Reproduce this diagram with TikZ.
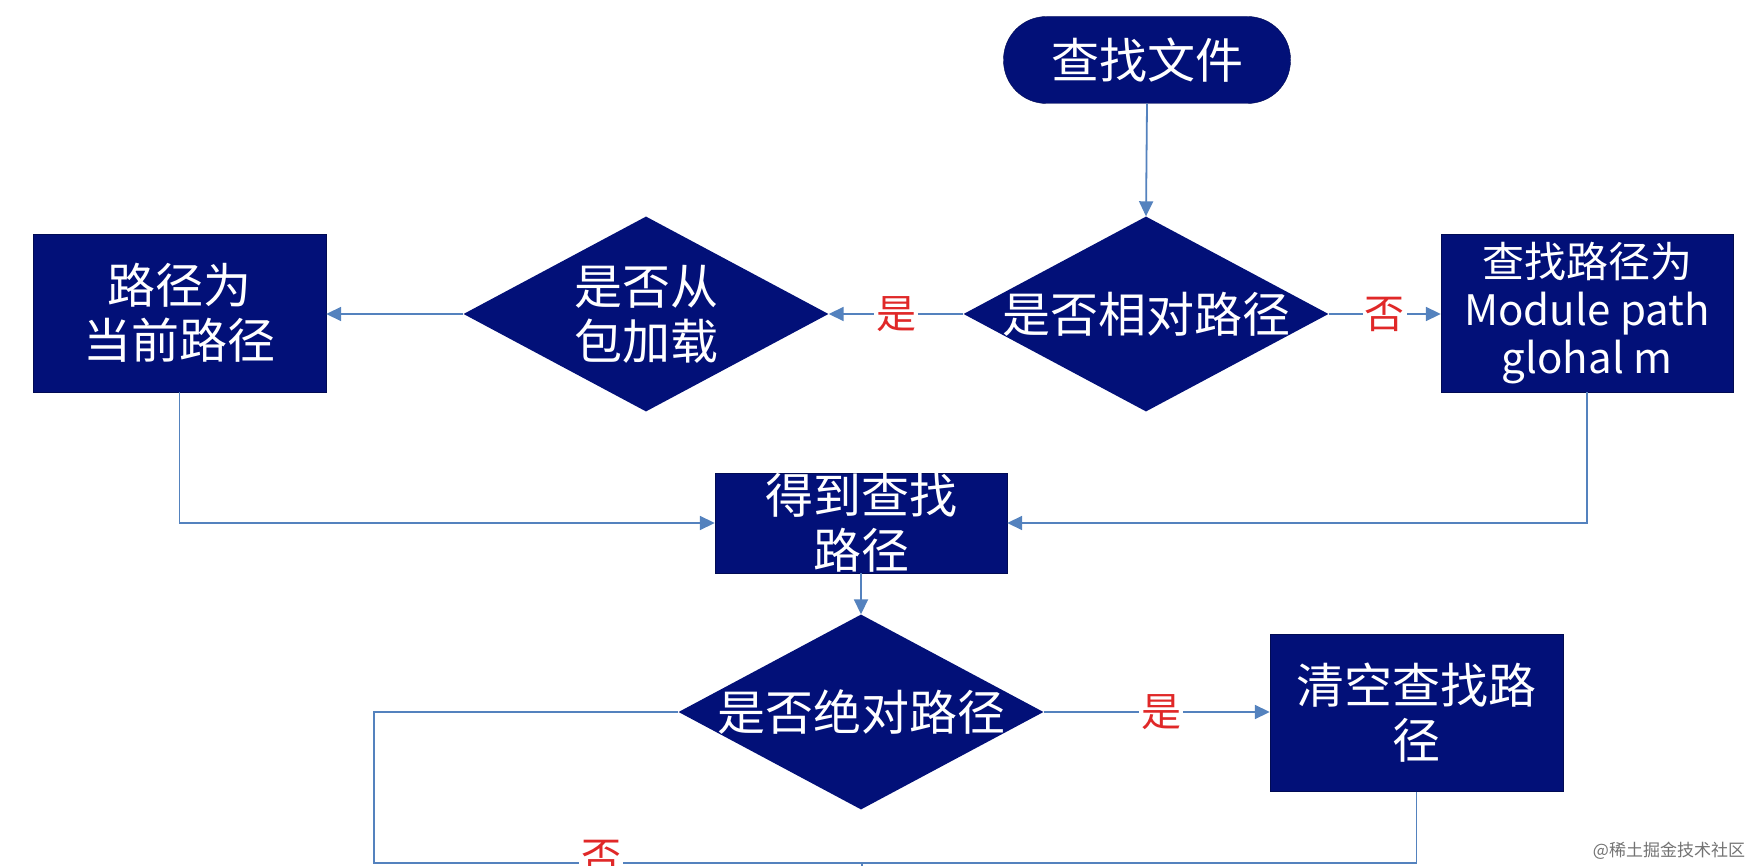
\documentclass[tikz,border=0pt]{standalone}
\usepackage{fontspec}
\setmainfont{Noto Sans CJK SC}
\usetikzlibrary{shapes.geometric,arrows.meta}
\definecolor{navy}{RGB}{2,16,120}
\definecolor{conn}{RGB}{84,130,190}
\definecolor{lblred}{RGB}{224,40,40}
\begin{document}
\begin{tikzpicture}[x=1pt,y=-1pt,
  box/.style={draw=navy!70!black,fill=navy,rectangle,inner sep=0pt,text=white,align=center,font=\fontsize{48}{55}\selectfont},
  term/.style={box,rounded corners=43pt,minimum width=287pt,minimum height=87pt},
  dec/.style={draw=none,fill=navy,diamond,inner sep=0pt,minimum width=365pt,minimum height=195pt},
  dtext/.style={text=white,align=center,font=\fontsize{48}{55}\selectfont,inner sep=0pt},
  conn/.style={draw=conn,line width=1.8pt},
  arr/.style={conn,-{Triangle[length=15pt,width=14pt]}},
  lbl/.style={text=lblred,fill=white,inner sep=2pt,font=\fontsize{40}{44}\selectfont},
  wm/.style={text=black!55,font=\fontsize{17}{20}\selectfont,inner sep=0pt}
]
\useasboundingbox[fill=white] (0,0) rectangle (1762,866);

\node[term] (start) at (1147,60) {查找文件};
\node[dec] (d1) at (1146,314) {};
\node[dtext] (d1t) at (d1.center) {是否相对路径};
\node[dec] (d2) at (646,314) {};
\node[dtext] (d2t) at (d2.center) {是否从\\包加载};
\node[box,minimum width=293pt,minimum height=158pt] (left) at (179.5,313) {路径为\\当前路径};
\node[box,minimum width=292pt,minimum height=158pt,font=\fontsize{42}{48}\selectfont] (right) at (1587,313) {查找路径为\\Module path\\glohal m};
\node[box,minimum width=292pt,minimum height=100pt] (mid) at (861,523) {得到查找\\路径};
\node[dec] (d3) at (861,712) {};
\node[dtext] (d3t) at (d3.center) {是否绝对路径};
\node[box,minimum width=293pt,minimum height=157pt] (clear) at (1416.5,713) {清空查找路\\径};

\coordinate (bl) at (374,863);
\coordinate (join) at (862,863);
\coordinate (out) at (862,880);

\draw[arr] (start.south) -- (d1.north);
\draw[arr] (d1.west) -- node[lbl] (l1) {是} (d2.east);
\draw[arr] (d1.east) -- node[lbl] (l2) {否} (right.west |- d1.east);
\draw[arr] (d2.west) -- (left.east |- d2.west);
\draw[arr] (left.south) |- (mid.west);
\draw[arr] (right.south) |- (mid.east);
\draw[arr] (mid.south) -- (d3.north);
\draw[arr] (d3.east) -- node[lbl,pos=0.52] (l3) {是} (clear.west |- d3.east);
\draw[conn] (d3.west) -| (bl) -- (join) -- (out);
\draw[conn] (clear.south) |- (join);
\node[lbl] (l4) at (601,857) {否};

\node[wm] (wmark) at (1669,851) {@稀土掘金技术社区};
\end{tikzpicture}
\end{document}
